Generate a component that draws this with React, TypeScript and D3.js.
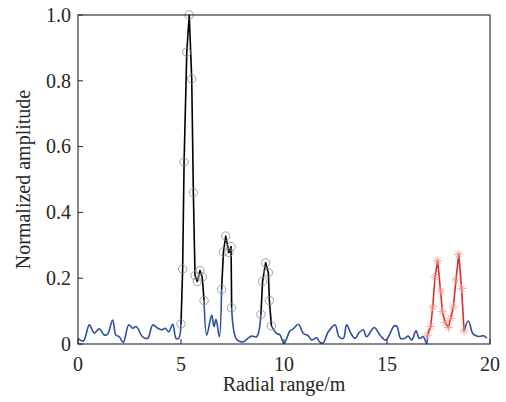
import React from "react";
import { scaleLinear, line, curveCatmullRom, curveLinear } from "d3";

// background (blue) trace
const noiseX = [0, 0.26, 0.55, 0.79, 1.03, 1.28, 1.44, 1.68, 1.84, 2.0, 2.2, 2.46, 2.66, 2.82, 3.14, 3.38, 3.63, 3.87, 4.08, 4.24, 4.4, 4.6, 4.76, 4.89,
  6.25, 6.49, 6.6, 6.7, 6.86,
  7.7, 8.03, 8.2, 8.43, 8.67,
  9.64, 9.8, 10.0, 10.29, 10.45, 10.7, 10.94, 11.18, 11.34, 11.59, 11.7, 11.88, 12.15, 12.48, 12.67, 12.88, 13.04, 13.25, 13.45, 13.65, 13.85, 14.01, 14.38, 14.66, 14.94, 15.23, 15.31, 15.47, 15.66, 15.85, 16.03, 16.2, 16.41, 16.57, 16.76, 16.93,
  18.95, 19.16, 19.32, 19.5, 19.71, 19.84];
const noiseY = [0.017, 0.009, 0.058, 0.033, 0.046, 0.027, 0.03, 0.073, 0.027, 0.022, 0.005, 0.058, 0.048, 0.053, 0.022, 0.017, 0.058, 0.048, 0.043, 0.048, 0.037, 0.06, 0.017, 0.017,
  0.027, 0.088, 0.053, 0.075, 0.022,
  0.014, 0.007, 0.015, 0.024, 0.022,
  0.032, 0.028, 0.002, 0.04, 0.046, 0.06, 0.032, 0.025, 0.012, 0.019, 0.008, 0.002, 0.037, 0.058, 0.022, 0.017, 0.058, 0.032, 0.017, 0.035, 0.043, 0.022, 0.05, 0.027, 0.012, 0.043, 0.053, 0.055, 0.017, 0.017, 0.024, 0.012, 0.04, 0.017, 0.022, 0.0,
  0.07, 0.032, 0.025, 0.023, 0.025, 0.017];

// detected peaks (black, circles)
const peak1X = [5.0, 5.08, 5.15, 5.28, 5.4, 5.52, 5.6, 5.68, 5.79, 5.92, 6.03, 6.12];
const peak1Y = [0.061, 0.228, 0.553, 0.887, 1.0, 0.806, 0.46, 0.208, 0.19, 0.223, 0.203, 0.132];
const peak2X = [6.97, 7.06, 7.17, 7.33, 7.43, 7.46];
const peak2Y = [0.166, 0.28, 0.328, 0.278, 0.296, 0.11];
const peak3X = [8.88, 8.96, 9.11, 9.24, 9.29, 9.39];
const peak3Y = [0.09, 0.19, 0.247, 0.217, 0.132, 0.055];

// red double peak (asterisks)
const redX = [16.96, 17.12, 17.22, 17.33, 17.46, 17.6, 17.69, 17.82, 17.98, 18.09, 18.22, 18.35, 18.48, 18.62, 18.74];
const redY = [0.027, 0.053, 0.113, 0.203, 0.253, 0.161, 0.098, 0.066, 0.05, 0.078, 0.113, 0.195, 0.273, 0.169, 0.04];

const xTicks = [0, 5, 10, 15, 20];
const yTicks = [0, 0.2, 0.4, 0.6, 0.8, 1.0];

const W = 506, H = 402;
const left = 78, right = 490, top = 15, bottom = 344;
const font = "'Liberation Serif', 'Times New Roman', serif";

type P = [number, number];
const zip = (xs: number[], ys: number[]): P[] => xs.map((x, i) => [x, ys[i]]);

export default function App() {
  const x = scaleLinear().domain([0, 20]).range([left, right]);
  const y = scaleLinear().domain([0, 1]).range([bottom, top]);
  const straight = line<P>().x((d) => x(d[0])).y((d) => y(d[1])).curve(curveLinear);
  const smooth = line<P>().x((d) => x(d[0])).y((d) => y(d[1])).curve(curveCatmullRom.alpha(0.5));

  const black = [zip(peak1X, peak1Y), zip(peak2X, peak2Y), zip(peak3X, peak3Y)];
  const red = zip(redX, redY);
  const marked = [...black, red];

  // blue noise pieces between the marked peaks, joined to their end points
  const noise = zip(noiseX, noiseY);
  const bounds = [-Infinity, ...marked.flatMap((s) => [s[0][0], s[s.length - 1][0]]), Infinity];
  const blueSegs: P[][] = [];
  for (let i = 0; i < bounds.length; i += 2) {
    const a = bounds[i], b = bounds[i + 1];
    const seg: P[] = noise.filter((d) => d[0] > a && d[0] < b);
    const prev = marked.find((s) => s[s.length - 1][0] === a);
    const next = marked.find((s) => s[0][0] === b);
    if (prev) seg.unshift(prev[prev.length - 1]);
    if (next) seg.push(next[0]);
    blueSegs.push(seg);
  }

  return (
    <div style={{ position: "absolute", left: 0, top: 0 }}>
      <svg width={W} height={H} style={{ display: "block", background: "#fff" }}>
        {blueSegs.map((seg, i) => (
          <path key={i} d={smooth(seg) || ""} fill="none" stroke="#2d4f9e" strokeWidth={1.6} strokeLinejoin="round" />
        ))}
        {black.map((seg, i) => (
          <g key={i}>
            <path d={straight(seg) || ""} fill="none" stroke="#000" strokeWidth={1.6} strokeLinejoin="round" />
            {seg.map((d, j) => (
              <circle key={j} cx={x(d[0])} cy={y(d[1])} r={4.2} fill="none" stroke="#8a8a8a" strokeWidth={0.8} />
            ))}
          </g>
        ))}
        <path d={straight(red) || ""} fill="none" stroke="#d8302c" strokeWidth={1.6} strokeLinejoin="round" />
        {red.map((d, j) => {
          const cx = x(d[0]), cy = y(d[1]), r = 4.5, q = r * 0.7071;
          return (
            <g key={j} stroke="#ef8f8c" strokeWidth={0.8}>
              <line x1={cx - r} y1={cy} x2={cx + r} y2={cy} />
              <line x1={cx} y1={cy - r} x2={cx} y2={cy + r} />
              <line x1={cx - q} y1={cy - q} x2={cx + q} y2={cy + q} />
              <line x1={cx - q} y1={cy + q} x2={cx + q} y2={cy - q} />
            </g>
          );
        })}

        {/* box */}
        <rect x={left} y={top} width={right - left} height={bottom - top} fill="none" stroke="#262626" strokeWidth={1.1} />
        {xTicks.map((t) => (
          <g key={t}>
            <line x1={x(t)} x2={x(t)} y1={bottom} y2={bottom - 5} stroke="#262626" strokeWidth={1} />
            <text x={x(t)} y={371} textAnchor="middle" fontFamily={font} fontSize={20} fill="#262626">{t}</text>
          </g>
        ))}
        {yTicks.map((t) => (
          <g key={t}>
            <line x1={left} x2={left + 5} y1={y(t)} y2={y(t)} stroke="#262626" strokeWidth={1} />
            <text x={71} y={y(t)} dy="0.34em" textAnchor="end" fontFamily={font} fontSize={20} fill="#262626">
              {t === 0 ? "0" : t.toFixed(1)}
            </text>
          </g>
        ))}
        <text x={(left + right) / 2} y={391} textAnchor="middle" fontFamily={font} fontSize={20} fill="#262626">Radial range/m</text>
        <text transform={`translate(30,${(top + bottom) / 2}) rotate(-90)`} textAnchor="middle" fontFamily={font} fontSize={20} fill="#262626">Normalized amplitude</text>
      </svg>
    </div>
  );
}
